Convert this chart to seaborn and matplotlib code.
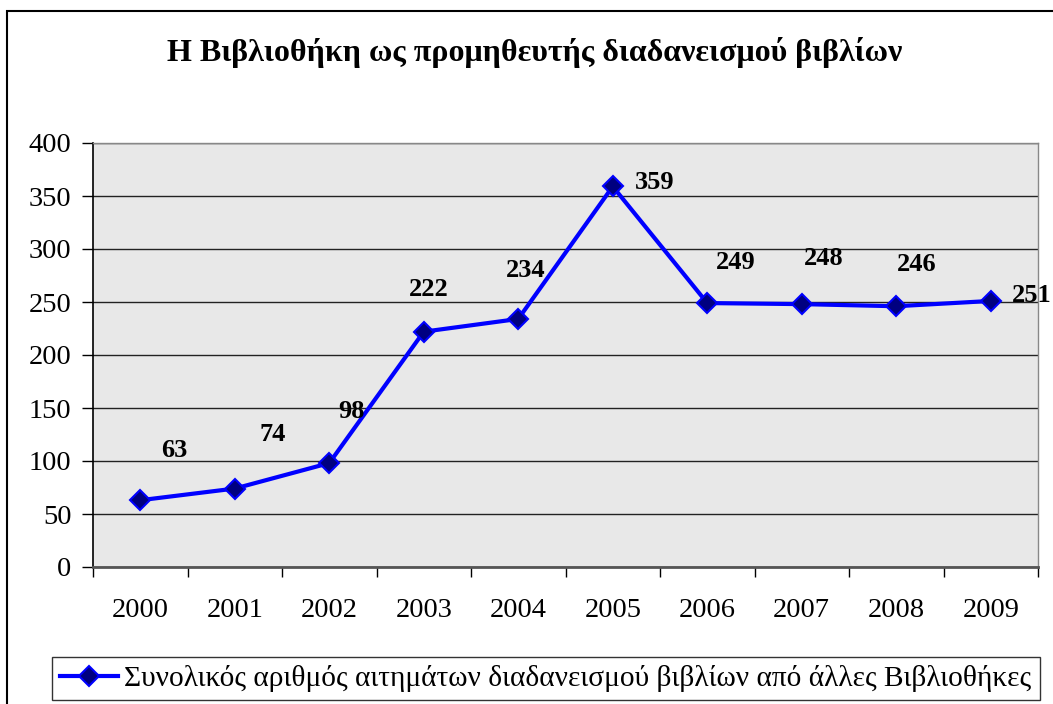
import matplotlib
matplotlib.use("Agg")
import matplotlib.pyplot as plt
import seaborn as sns
import pandas as pd
from matplotlib.patches import Rectangle
from matplotlib.ticker import FixedLocator

# data
years = ["2000", "2001", "2002", "2003", "2004", "2005", "2006", "2007", "2008", "2009"]
requests = [63, 74, 98, 222, 234, 359, 249, 248, 246, 251]
series_name = "Συνολικός αριθμός αιτημάτων διαδανεισμού βιβλίων από άλλες Βιβλιοθήκες"
title = "Η Βιβλιοθήκη ως προμηθευτής διαδανεισμού βιβλίων"

# label offsets in points (Excel placed them by hand)
label_offsets = [(24.5, 35.5), (27.4, 39), (15.8, 37.5), (3.6, 30.5), (5, 34.8),
                 (30.2, 3), (20.2, 29), (15.8, 33.2), (14.4, 30.3), (29.5, 3.6)]

df = pd.DataFrame({"pos": range(len(years)), "value": requests})

plt.rcParams["font.family"] = ["Liberation Serif", "DejaVu Serif"]

fig = plt.figure(figsize=(10.53, 7.04), dpi=100)
fig.patch.set_facecolor("white")
ax = fig.add_axes([93 / 1053, 1 - 567 / 704, (1038 - 93) / 1053, (567 - 143) / 704])
ax.set_facecolor("#e8e8e8")

sns.lineplot(data=df, x="pos", y="value", ax=ax, color="#0000ff", linewidth=3,
             marker="D", markersize=10.5, markerfacecolor="#000080",
             markeredgecolor="#0000ff", markeredgewidth=1.5, label=series_name,
             legend=False, zorder=3)

for i, v in enumerate(requests):
    dx, dy = label_offsets[i]
    ax.annotate(str(v), (i, v), xytext=(dx, dy), textcoords="offset points",
                ha="center", va="center", fontsize=19, fontweight="bold", color="black")

ax.set_xlim(-0.5, len(years) - 0.5)
ax.set_ylim(0, 400)
ax.set_yticks(range(0, 401, 50))
ax.set_xticks(range(len(years)))
ax.set_xticklabels(years)
ax.xaxis.set_minor_locator(FixedLocator([i - 0.5 for i in range(len(years) + 1)]))
ax.tick_params(axis="x", which="major", length=0, pad=22, labelsize=20.5)
ax.tick_params(axis="x", which="minor", length=7, width=1, color="black")
ax.tick_params(axis="y", length=8, width=1, pad=7.5, labelsize=20.5)
ax.grid(axis="y", color="#222222", linewidth=1)
ax.set_axisbelow(True)
ax.set_xlabel("")
ax.set_ylabel("")

for side in ["top", "right"]:
    ax.spines[side].set_color("#888888")
    ax.spines[side].set_linewidth(1)
ax.spines["left"].set_color("black")
ax.spines["left"].set_linewidth(1.2)
ax.spines["bottom"].set_color("#555555")
ax.spines["bottom"].set_linewidth(2)

fig.text(535 / 1053, 1 - 52 / 704, title, ha="center", va="center",
         fontsize=23, fontweight="bold")

handles, labels = ax.get_legend_handles_labels()
leg = fig.legend(handles, labels, loc="upper left", bbox_to_anchor=(52 / 1053, 1 - 657 / 704),
                 fontsize=21.2, frameon=True, fancybox=False, edgecolor="black",
                 borderpad=0.28, handlelength=1.95, handletextpad=0.22, borderaxespad=0)
leg.get_frame().set_linewidth(1)

# outer chart border
fig.add_artist(Rectangle((7 / 1053, -0.05), 1.1, 1 - 11 / 704 + 0.05,
                         transform=fig.transFigure, fill=False,
                         edgecolor="black", linewidth=1.5))

fig.savefig("out.png", dpi=100)
